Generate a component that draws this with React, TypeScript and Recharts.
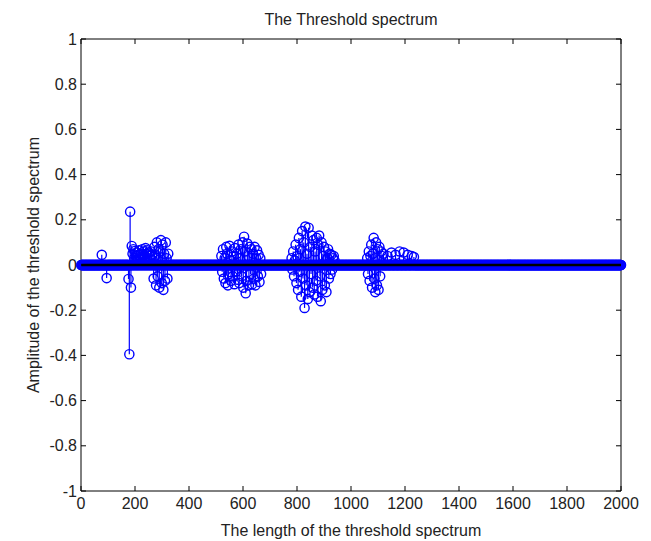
import React from 'react';
import { ComposedChart, Bar, Scatter, Line, XAxis, YAxis } from 'recharts';

// Isolated nonzero samples
const isolatedX = [77, 95];
const isolatedV = [0.045, -0.058];

// Cluster A: start 176, step 3
const clusterAStart = 176;
const clusterAValues = [
  -0.062, -0.395, 0.236, -0.1, 0.084, 0.05, 0.07, 0.03, 0.062, 0.04, 0.055, 0.02, 0.045,
  0.065, 0.035, 0.05, 0.025, 0.07, 0.04, 0.06, 0.03, 0.075, 0.05, 0.065, 0.02, 0.055, 0.04,
  0.03, 0.06, 0.045, 0.02, -0.06, 0.08, 0.04, -0.09, 0.1, -0.05, 0.07, -0.1, 0.06, 0.11,
  -0.08, 0.09, -0.11, 0.05, -0.07, 0.1, 0.03, -0.06, 0.05,
];

// Cluster B: start 520, step 3
const clusterBStart = 520;
const clusterBValues = [
  0.04, -0.03, 0.07, -0.06, 0.03, -0.08, 0.08, 0.05, -0.09, -0.04, 0.085, 0.02, -0.07, 0.06,
  -0.05, 0.04, -0.085, 0.075, -0.03, 0.05, -0.065, 0.09, -0.08, 0.03, 0.07, -0.05, 0.1,
  -0.1, 0.125, 0.06, -0.125, -0.07, 0.095, 0.04, -0.09, 0.08, -0.04, 0.07, -0.085, 0.05,
  -0.06, 0.08, -0.09, 0.03, 0.065, -0.05, 0.045, -0.075, 0.03, -0.04,
];

// Cluster C: start 780, step 3
const clusterCStart = 780;
const clusterCValues = [
  0.03, -0.02, 0.06, -0.05, 0.02, 0.09, -0.08, 0.04, -0.11, 0.12, -0.03, 0.07, -0.14, 0.15,
  -0.06, 0.1, -0.19, 0.17, -0.09, 0.05, -0.15, 0.165, -0.12, 0.08, -0.04, 0.13, -0.1, 0.11,
  -0.13, 0.06, -0.07, 0.12, -0.14, 0.09, 0.13, -0.05, -0.16, 0.1, -0.11, 0.04, 0.08, -0.09,
  0.06, -0.12, 0.03, 0.07, -0.06, 0.05, -0.04, 0.045, -0.02, 0.03, 0.04, 0.02,
];

// Cluster D: start 1060, step 3
const clusterDStart = 1060;
const clusterDValues = [
  0.03, -0.04, 0.06, -0.07, 0.04, 0.09, -0.1, 0.05, 0.12, -0.06, -0.12, 0.1, -0.09, 0.07,
  -0.11, 0.08, -0.05, 0.06, 0.04,
];

// Tail row after cluster D
const tailX = [1120, 1135, 1150, 1165, 1180, 1195, 1210, 1225, 1233];
const tailV = [0.05, 0.04, 0.055, 0.045, 0.06, 0.055, 0.045, 0.04, 0.035];

const SIGNAL_LENGTH = 2000;

const xTicks = [0, 200, 400, 600, 800, 1000, 1200, 1400, 1600, 1800, 2000];
const yTicks = [-1, -0.8, -0.6, -0.4, -0.2, 0, 0.2, 0.4, 0.6, 0.8, 1];

const values = new Map<number, number>();
isolatedX.forEach((x, i) => values.set(x, isolatedV[i]));
const addCluster = (start: number, vals: number[]) => vals.forEach((v, i) => values.set(start + i * 3, v));
addCluster(clusterAStart, clusterAValues);
addCluster(clusterBStart, clusterBValues);
addCluster(clusterCStart, clusterCValues);
addCluster(clusterDStart, clusterDValues);
tailX.forEach((x, i) => values.set(x, tailV[i]));

const data: { x: number; v: number; base: number }[] = [];
for (let i = 1; i <= SIGNAL_LENGTH; i++) data.push({ x: i, v: values.get(i) ?? 0, base: 0 });

const BLUE = '#0000FF';
const FONT = '"Liberation Sans", Arial, sans-serif';
const TXT = '#222';

const BottomTick = (p: any) => (
  <g>
    <line x1={p.x} x2={p.x} y1={p.y} y2={p.y - 5} stroke="#000" />
    <text x={p.x} y={p.y + 18} textAnchor="middle" fontSize={16} fontFamily={FONT} fill={TXT}>
      {p.payload.value}
    </text>
  </g>
);
const TopTick = (p: any) => <line x1={p.x} x2={p.x} y1={p.y} y2={p.y + 5} stroke="#000" />;
const LeftTick = (p: any) => (
  <g>
    <line x1={p.x} x2={p.x + 5} y1={p.y} y2={p.y} stroke="#000" />
    <text x={p.x - 4} y={p.y + 5.5} textAnchor="end" fontSize={16} fontFamily={FONT} fill={TXT}>
      {p.payload.value}
    </text>
  </g>
);
const RightTick = (p: any) => <line x1={p.x} x2={p.x - 5} y1={p.y} y2={p.y} stroke="#000" />;

const StemHead = (p: any) => (
  <circle cx={p.cx} cy={p.cy} r={4.6} fill="none" stroke={BLUE} strokeWidth={1.4} />
);

const StemLine = (p: any) => {
  if (!p.height) return null;
  const cx = p.x + p.width / 2;
  return <line x1={cx} x2={cx} y1={p.y} y2={p.y + p.height} stroke={BLUE} strokeWidth={1.2} />;
};

export default function App() {
  return (
    <ComposedChart
      width={643}
      height={533}
      data={data}
      margin={{ top: 30, right: 29, bottom: 0, left: 0 }}
    >
      <XAxis
        dataKey="x"
        type="number"
        domain={[0, 2000]}
        ticks={xTicks}
        interval={0}
        tickSize={0}
        tickMargin={0}
        tick={<BottomTick />}
        tickLine={false}
        axisLine={{ stroke: '#000' }}
        height={50}
        label={{
          value: 'The length of the threshold spectrum',
          position: 'insideBottom',
          offset: 5,
          fontSize: 16,
          fontFamily: FONT,
          fill: TXT,
        }}
      />
      <XAxis
        xAxisId="top"
        dataKey="x"
        type="number"
        orientation="top"
        domain={[0, 2000]}
        ticks={xTicks}
        interval={0}
        tickSize={0}
        tickMargin={0}
        tick={<TopTick />}
        tickLine={false}
        axisLine={{ stroke: '#000' }}
        height={1}
        label={{
          value: 'The Threshold spectrum',
          position: 'top',
          offset: 13,
          fontSize: 16,
          fontFamily: FONT,
          fill: TXT,
        }}
      />
      <YAxis
        type="number"
        domain={[-1, 1]}
        ticks={yTicks}
        interval={0}
        tickSize={0}
        tickMargin={0}
        tick={<LeftTick />}
        tickLine={false}
        axisLine={{ stroke: '#000' }}
        width={73}
        label={{
          value: 'Amplitude of the threshold spectrum',
          position: 'insideLeft',
          angle: -90,
          offset: 25,
          fontSize: 16,
          fontFamily: FONT,
          fill: TXT,
          style: { textAnchor: 'middle' },
        }}
      />
      <YAxis
        yAxisId="right"
        orientation="right"
        type="number"
        domain={[-1, 1]}
        ticks={yTicks}
        interval={0}
        tickSize={0}
        tickMargin={0}
        tick={<RightTick />}
        tickLine={false}
        axisLine={{ stroke: '#000' }}
        width={1}
      />
      <Bar dataKey="v" barSize={1} fill={BLUE} shape={<StemLine />} isAnimationActive={false} />
      <Scatter dataKey="v" shape={<StemHead />} isAnimationActive={false} />
      <Line
        xAxisId="top"
        yAxisId="right"
        dataKey="base"
        stroke="#000"
        strokeWidth={2.5}
        dot={false}
        activeDot={false}
        isAnimationActive={false}
        zIndex={700}
      />
    </ComposedChart>
  );
}
